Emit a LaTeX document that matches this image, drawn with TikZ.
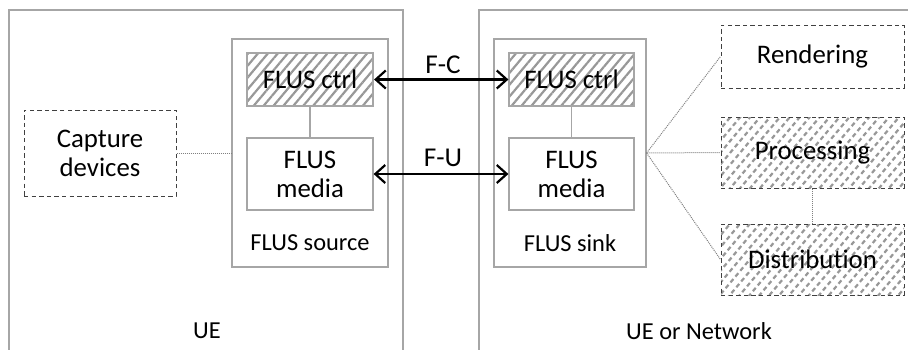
\documentclass[tikz,border=0pt]{standalone}
\usepackage{fontspec}
\setmainfont{Carlito}[Ligatures={NoCommon,NoContextual}]
\usetikzlibrary{arrows.meta,patterns.meta}
\definecolor{boxgray}{HTML}{A6A6A6}
\definecolor{hatchgray}{HTML}{989898}
\definecolor{dashdark}{HTML}{404040}
\tikzset{
  px/.style={x=0.5pt,y=-0.5pt},
  frame/.style={draw=boxgray,line width=0.6pt},
  plainbox/.style={draw=boxgray,line width=0.6pt,inner sep=0pt,align=center,font=\fontsize{13.4}{14.5}\selectfont},
  hatch/.style={pattern={Lines[angle=50,distance=3.8pt,line width=1.1pt]},pattern color=hatchgray},
  dashbox/.style={draw=dashdark,dashed,dash pattern=on 2.2pt off 1.6pt,line width=0.5pt,inner sep=0pt,align=center,font=\fontsize{13.4}{14.5}\selectfont},
  lbl/.style={font=\fontsize{12.2}{14}\selectfont,inner sep=0pt},
  arrlbl/.style={font=\fontsize{13.6}{14}\selectfont,inner sep=0pt},
  dotline/.style={draw=gray,line width=0.5pt,dash pattern=on 0.5pt off 0.5pt},
  solidlink/.style={draw=boxgray,line width=0.6pt},
  iface/.style={line width=1.1pt,{Straight Barb[length=5pt,width=9pt]}-{Straight Barb[length=5pt,width=9pt]}}
}
\begin{document}
\begin{tikzpicture}[px]
\useasboundingbox (0,0) rectangle (908,349);
% outer domains (open at the bottom / right)
\draw[frame] (9,352) -- (9,10) -- (403,10) -- (403,352);
\draw[frame] (479,352) -- (479,10) -- (912,10);
\node[lbl] (ue) at (207,331) {UE};
\node[lbl] (net) at (699,331) {UE or Network};
% FLUS source
\node[frame,minimum width=78pt,minimum height=114pt,inner sep=0pt] (src) at (310,153) {};
\node[plainbox,hatch,minimum width=63pt,minimum height=26.5pt] (sctrl) at (310,79.5) {FLUS ctrl};
\node[plainbox,fill=white,minimum width=63pt,minimum height=36pt] (smedia) at (310,174) {FLUS\\media};
\node[lbl] (srclbl) at (310,243) {FLUS source};
% FLUS sink
\node[frame,minimum width=76pt,minimum height=114pt,inner sep=0pt] (snk) at (570,153) {};
\node[plainbox,hatch,minimum width=62.5pt,minimum height=26.5pt] (kctrl) at (571.5,79.5) {FLUS ctrl};
\node[plainbox,fill=white,minimum width=62.5pt,minimum height=36pt] (kmedia) at (571.5,174) {FLUS\\media};
\node[lbl] (snklbl) at (570,243) {FLUS sink};
% capture
\node[dashbox,minimum width=76pt,minimum height=43pt] (cap) at (100,153) {Capture\\devices};
% right side functions
\node[dashbox,minimum width=91.5pt,minimum height=31.5pt] (rend) at (812.5,56.5) {Rendering};
\node[dashbox,hatch,minimum width=91.5pt,minimum height=35.5pt] (proc) at (812.5,152.5) {Processing};
\node[dashbox,hatch,minimum width=91.5pt,minimum height=35.5pt] (dist) at (812.5,259.5) {Distribution};
% internal links
\draw[solidlink] (sctrl.south) -- (smedia.north);
\draw[solidlink] (kctrl.south) -- (kmedia.north);
\draw[dotline] (cap.east) -- (src.west);
\draw[dotline] (snk.east) -- (rend.west);
\draw[dotline] (snk.east) -- (proc.west);
\draw[dotline] (snk.east) -- (dist.west);
\draw[dotline] (proc.south) -- (dist.north);
% interfaces
\draw[iface] (sctrl.east) -- (kctrl.west);
\draw[iface] (smedia.east) -- (kmedia.west);
\node[arrlbl] (fc) at (443,65) {F-C};
\node[arrlbl] (fu) at (443,158) {F-U};
\end{tikzpicture}
\end{document}
